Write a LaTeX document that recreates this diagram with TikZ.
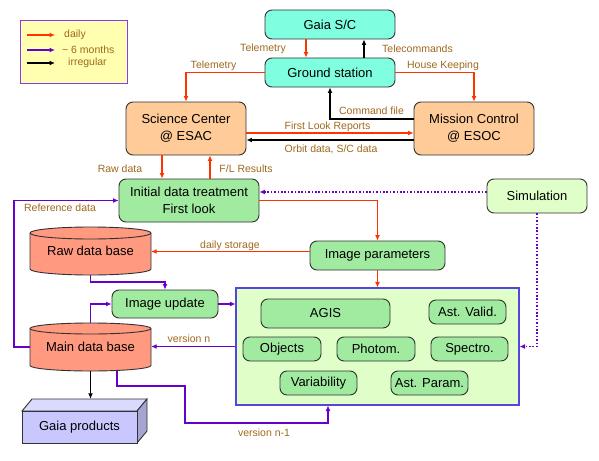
\documentclass[tikz,border=0pt]{standalone}
\usepackage{fontspec}
\setmainfont{Liberation Sans}
\usetikzlibrary{arrows.meta,calc}
\definecolor{myred}{RGB}{255,51,0}
\definecolor{mypurple}{RGB}{102,0,204}
\definecolor{lblcol}{RGB}{160,105,30}
\definecolor{boxborder}{RGB}{50,50,50}
\definecolor{aqua}{RGB}{128,255,224}
\definecolor{peach}{RGB}{255,204,153}
\definecolor{mygreen}{RGB}{160,235,160}
\definecolor{salmon}{RGB}{255,153,128}
\definecolor{lightbox}{RGB}{224,255,200}
\definecolor{bigborder}{RGB}{85,68,221}
\definecolor{legfill}{RGB}{255,255,175}
\definecolor{legborder}{RGB}{140,60,230}
\definecolor{gpfront}{RGB}{200,200,255}
\definecolor{gptop}{RGB}{218,218,255}
\definecolor{gpside}{RGB}{165,165,210}
\begin{document}
\begin{tikzpicture}[x=1pt,y=-1pt,
  box/.style={draw=boxborder, line width=0.9pt, rounded corners=7pt, inner sep=0pt, align=center, font=\fontsize{13}{17}\selectfont},
  plain/.style={inner sep=0pt, align=center, font=\fontsize{13}{17}\selectfont},
  lbl/.style={text=lblcol, font=\fontsize{10.5}{12}\selectfont, inner sep=1pt},
  redarr/.style={draw=myred, line width=1.7pt, -{Latex[length=5.5pt,width=5pt]}},
  purarr/.style={draw=mypurple, line width=1.7pt, -{Latex[length=5.5pt,width=5pt]}},
  blkarr/.style={draw=black, line width=1.7pt, -{Latex[length=5.5pt,width=5pt]}},
  dotarr/.style={draw=mypurple, line width=1.7pt, dash pattern=on 1.6pt off 1.8pt, -{Latex[length=5.5pt,width=5pt]}},
  cyl/.style={draw=boxborder, line width=0.9pt, fill=salmon}
]
\fill[white] (0,0) rectangle (599,460);
\useasboundingbox (0,0) rectangle (599,460);

% legend
\node[draw=legborder, line width=0.9pt, fill=legfill, minimum width=107pt, minimum height=63pt, inner sep=0pt] (legend) at (73.5,51.5) {};
\draw[redarr] (27,35) -- (55,35);
\draw[purarr] (27,50) -- (55,50);
\draw[blkarr] (27,63) -- (55,63);
\node[lbl, anchor=west] (lg1) at (63,35) {daily};
\node[lbl, anchor=west] (lg2) at (61,50) {\textasciitilde{} 6 months};
\node[lbl, anchor=west] (lg3) at (67,63) {irregular};

% top nodes
\node[box, fill=aqua, minimum width=130pt, minimum height=29pt] (gaia) at (330,24.5) {Gaia S/C};
\node[box, fill=aqua, minimum width=130pt, minimum height=29pt] (gs) at (330,72.5) {Ground station};
\node[box, fill=peach, minimum width=120pt, minimum height=53pt] (sc) at (186,128.5) {Science Center\\@ ESAC};
\node[box, fill=peach, minimum width=120pt, minimum height=53pt] (mc) at (474,128.5) {Mission Control\\@ ESOC};
\node[box, fill=mygreen, minimum width=140pt, minimum height=43pt] (idt) at (189,200.5) {Initial data treatment\\First look};
\node[box, fill=lightbox, minimum width=100pt, minimum height=34pt] (sim) at (537,196) {Simulation};
\node[box, fill=mygreen, minimum width=135pt, minimum height=29pt] (ip) at (377.5,255.5) {Image parameters};
\node[box, fill=mygreen, minimum width=106pt, minimum height=28pt] (iu) at (165,304) {Image update};

% cylinders
\path[cyl] (30,233) -- (30,269) arc[start angle=180, end angle=360, x radius=60.5pt, y radius=6pt] -- (151,233) arc[start angle=0, end angle=180, x radius=60.5pt, y radius=6pt] -- cycle;
\draw[boxborder, line width=0.9pt] (30,233) arc[start angle=180, end angle=360, x radius=60.5pt, y radius=6pt];
\node[plain, minimum width=121pt, minimum height=48pt] (raw) at (90.5,251) {\raisebox{-2pt}{Raw data base}};

\path[cyl] (30,328.5) -- (30,365.5) arc[start angle=180, end angle=360, x radius=60.5pt, y radius=5.5pt] -- (151,328.5) arc[start angle=0, end angle=180, x radius=60.5pt, y radius=5.5pt] -- cycle;
\draw[boxborder, line width=0.9pt] (30,328.5) arc[start angle=180, end angle=360, x radius=60.5pt, y radius=5.5pt];
\node[plain, minimum width=121pt, minimum height=48pt] (mdb) at (90.5,347) {\raisebox{-3pt}{Main data base}};

% big box
\node[draw=bigborder, line width=1.1pt, fill=lightbox, minimum width=283pt, minimum height=117pt, inner sep=0pt] (big) at (377.5,346.5) {};
\node[box, fill=mygreen, minimum width=129pt, minimum height=29pt] (agis) at (325.5,313.5) {AGIS};
\node[box, fill=mygreen, minimum width=77pt, minimum height=24pt] (av) at (467.5,312) {Ast. Valid.};
\node[box, fill=mygreen, minimum width=78pt, minimum height=24pt] (obj) at (282,349) {Objects};
\node[box, fill=mygreen, minimum width=78pt, minimum height=24pt] (pho) at (376,349) {Photom.};
\node[box, fill=mygreen, minimum width=77pt, minimum height=24pt] (spe) at (469.5,349) {Spectro.};
\node[box, fill=mygreen, minimum width=77pt, minimum height=24pt] (var) at (318.5,383) {Variability};
\node[box, fill=mygreen, minimum width=77pt, minimum height=24pt] (ap) at (429.5,383) {Ast. Param.};

% Gaia products 3D box
\filldraw[boxborder, line width=0.9pt, fill=gptop] (22,411) -- (32,399) -- (147,399) -- (137,411) -- cycle;
\filldraw[boxborder, line width=0.9pt, fill=gpside] (137,411) -- (147,399) -- (147,431) -- (137,443) -- cycle;
\filldraw[boxborder, line width=0.9pt, fill=gpfront] (22,411) rectangle (137,443);
\node[plain, minimum width=125pt, minimum height=44pt] (gp) at (84.5,421) {};
\node[plain] (gptxt) at (79.5,427) {Gaia products};

% connectors
\draw[redarr] ([xshift=-24pt]gaia.south) -- ([xshift=-24pt]gs.north);
\draw[blkarr] ([xshift=34pt]gs.north) -- ([xshift=34pt]gaia.south);
\draw[redarr] (gs.west) -| (sc.north);
\draw[redarr] (gs.east) -| (mc.north);
\draw[blkarr] ([yshift=9.5pt]mc.west) -| (gs.south);
\draw[redarr] ([yshift=-4.5pt]sc.east) -- ([yshift=-4.5pt]mc.west);
\draw[blkarr] ([yshift=-11.5pt]mc.west) -- ([yshift=-11.5pt]sc.east);
\draw[redarr] ([xshift=-24pt]sc.south) -- ([xshift=-24pt]sc.south |- idt.north);
\draw[redarr] ([xshift=21pt]idt.north) -- ([xshift=21pt]idt.north |- sc.south);
\draw[dotarr] ([yshift=4pt]sim.west) -- ([yshift=8.5pt]idt.east);
\draw[redarr] (idt.east) -| (ip.north);
\draw[redarr] ([yshift=4pt]ip.west) -- ([yshift=4pt]ip.west -| raw.east);
\draw[redarr] (ip.south) -- (ip.south |- big.north);
\draw[dotarr] (sim.south) |- (big.east);
\draw[purarr] (raw.south) -- ++(0,7) -| (iu.north);
\draw[purarr] (mdb.north) |- (iu.west);
\draw[purarr] (iu.east) -- (iu.east -| big.west);
\draw[purarr] (big.west) -- (big.west -| mdb.east);
\draw[purarr] (mdb.west) -- ++(-16,0) |- (idt.west);
\draw[blkarr] (mdb.south) -- (mdb.south |- gp.north);
\draw[purarr] ([xshift=26.5pt]mdb.south) -- ++(0,15) -- ++(68,0) -- ++(0,37) -- ++(143,0) -- ([xshift=-49.5pt]big.south);

% labels
\node[lbl] (l1) at (263,49) {Telemetry};
\node[lbl] (l2) at (417.5,49) {Telecommands};
\node[lbl] (l3) at (213.5,66) {Telemetry};
\node[lbl] (l4) at (443,66) {House Keeping};
\node[lbl] (l5) at (371.5,111) {Command file};
\node[lbl] (l6) at (327.5,127) {First Look Reports};
\node[lbl] (l7) at (331,149) {Orbit data, S/C data};
\node[lbl] (l8) at (120,169) {Raw data};
\node[lbl] (l9) at (246,169) {F/L Results};
\node[lbl] (l10) at (60,208) {Reference data};
\node[lbl] (l11) at (230,246) {daily storage};
\node[lbl] (l12) at (189,339) {version n};
\node[lbl] (l13) at (264,433) {version n-1};
\end{tikzpicture}
\end{document}
